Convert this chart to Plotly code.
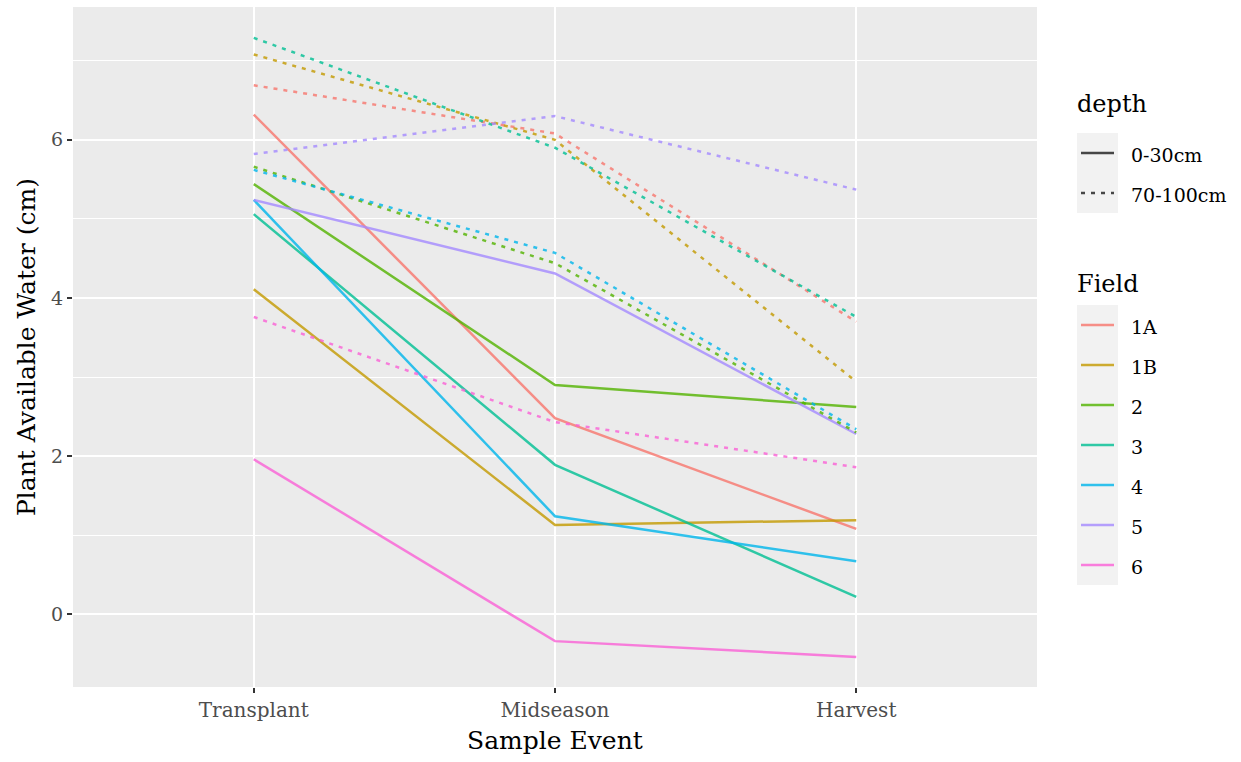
import plotly.graph_objects as go

events = ["Transplant", "Midseason", "Harvest"]
fields = ["1A", "1B", "2", "3", "4", "5", "6"]
depths = ["0-30cm", "70-100cm"]
colors = ["#F8766D", "#C49A00", "#53B400", "#00C094", "#00B6EB", "#A58AFF", "#FB61D7"]

# Plant available water (cm), 0-30cm depth
shallow_1A = [6.32, 2.48, 1.08]
shallow_1B = [4.11, 1.13, 1.19]
shallow_2 = [5.44, 2.90, 2.62]
shallow_3 = [5.06, 1.89, 0.22]
shallow_4 = [5.24, 1.24, 0.67]
shallow_5 = [5.24, 4.31, 2.28]
shallow_6 = [1.96, -0.34, -0.54]

# Plant available water (cm), 70-100cm depth
deep_1A = [6.69, 6.08, 3.70]
deep_1B = [7.08, 6.00, 2.94]
deep_2 = [5.66, 4.44, 2.30]
deep_3 = [7.29, 5.90, 3.76]
deep_4 = [5.62, 4.57, 2.34]
deep_5 = [5.82, 6.30, 5.37]
deep_6 = [3.76, 2.43, 1.86]

shallow = [shallow_1A, shallow_1B, shallow_2, shallow_3, shallow_4, shallow_5, shallow_6]
deep = [deep_1A, deep_1B, deep_2, deep_3, deep_4, deep_5, deep_6]

FONT = "DejaVu Serif"
W, H = 1241, 762
L, R, T, B = 73, 204, 7, 75
PW, PH = W - L - R, H - T - B


def px_x(p):
    return (p - L) / PW


def px_y(p):
    return (H - B - p) / PH


fig = go.Figure()
dotted = "4px,6px"
for i, f in enumerate(fields):
    fig.add_trace(go.Scatter(x=events, y=shallow[i], mode="lines", name=f,
                             line=dict(color=colors[i], width=2.5),
                             opacity=0.8, showlegend=False))
for i, f in enumerate(fields):
    fig.add_trace(go.Scatter(x=events, y=deep[i], mode="lines", name=f,
                             line=dict(color=colors[i], width=2.5, dash=dotted),
                             opacity=0.8, showlegend=False))

shapes = []
annotations = []

# Legend: depth
key_x0, key_x1 = px_x(1077), px_x(1118)
line_x0, line_x1 = px_x(1081), px_x(1114)
shapes.append(dict(type="rect", xref="paper", yref="paper", x0=key_x0, x1=key_x1,
                   y0=px_y(213), y1=px_y(133), fillcolor="#F2F2F2", line=dict(width=0), layer="below"))
annotations.append(dict(text="depth", xref="paper", yref="paper", x=px_x(1075), y=px_y(104),
                        xanchor="left", yanchor="middle", showarrow=False,
                        font=dict(family=FONT, size=24, color="black")))
for j, d in enumerate(depths):
    yc = 153 + 40 * j
    shapes.append(dict(type="line", xref="paper", yref="paper", x0=line_x0, x1=line_x1,
                       y0=px_y(yc), y1=px_y(yc),
                       line=dict(color="rgba(51,51,51,0.9)", width=2.5, dash="solid" if j == 0 else dotted)))
    annotations.append(dict(text=d, xref="paper", yref="paper", x=px_x(1129), y=px_y(yc + 2),
                            xanchor="left", yanchor="middle", showarrow=False,
                            font=dict(family=FONT, size=19, color="black")))

# Legend: Field
shapes.append(dict(type="rect", xref="paper", yref="paper", x0=key_x0, x1=key_x1,
                   y0=px_y(585), y1=px_y(305), fillcolor="#F2F2F2", line=dict(width=0), layer="below"))
annotations.append(dict(text="Field", xref="paper", yref="paper", x=px_x(1075), y=px_y(284),
                        xanchor="left", yanchor="middle", showarrow=False,
                        font=dict(family=FONT, size=24, color="black")))
for i, f in enumerate(fields):
    yc = 325 + 40 * i
    shapes.append(dict(type="line", xref="paper", yref="paper", x0=line_x0, x1=line_x1,
                       y0=px_y(yc), y1=px_y(yc),
                       line=dict(color=colors[i], width=2.5), opacity=0.8))
    annotations.append(dict(text=f, xref="paper", yref="paper", x=px_x(1129), y=px_y(yc + 2),
                            xanchor="left", yanchor="middle", showarrow=False,
                            font=dict(family=FONT, size=19, color="black")))

# Axis titles
annotations.append(dict(text="Sample Event", xref="paper", yref="paper", x=0.5, y=px_y(740),
                        xanchor="center", yanchor="middle", showarrow=False,
                        font=dict(family=FONT, size=25, color="black")))
annotations.append(dict(text="Plant Available Water (cm)", xref="paper", yref="paper",
                        x=px_x(26), y=0.5, textangle=-90,
                        xanchor="center", yanchor="middle", showarrow=False,
                        font=dict(family=FONT, size=25, color="black")))

fig.update_layout(
    template="none",
    width=W, height=H,
    margin=dict(l=L, r=R, t=T, b=B, pad=0),
    paper_bgcolor="white",
    plot_bgcolor="#EBEBEB",
    font=dict(family=FONT, color="#4D4D4D"),
    shapes=shapes,
    annotations=annotations,
    showlegend=False,
    xaxis=dict(type="category", categoryorder="array", categoryarray=events,
               range=[-0.6, 2.6], showgrid=True, gridcolor="white", gridwidth=2.4,
               zeroline=False, showline=False, ticks="outside", ticklen=5, tickwidth=2,
               tickcolor="#333333", tickfont=dict(family=FONT, size=20, color="#4D4D4D"),
               automargin=False),
    yaxis=dict(range=[-0.92, 7.68], tick0=0, dtick=2, showgrid=True, gridcolor="white",
               gridwidth=2.4, zeroline=False, showline=False, ticks="outside", ticklen=5,
               tickwidth=2, tickcolor="#333333",
               tickfont=dict(family=FONT, size=19, color="#4D4D4D"),
               minor=dict(tick0=0, dtick=1, showgrid=True, gridcolor="white", gridwidth=1.2),
               automargin=False),
)

fig.write_html("out.html")
